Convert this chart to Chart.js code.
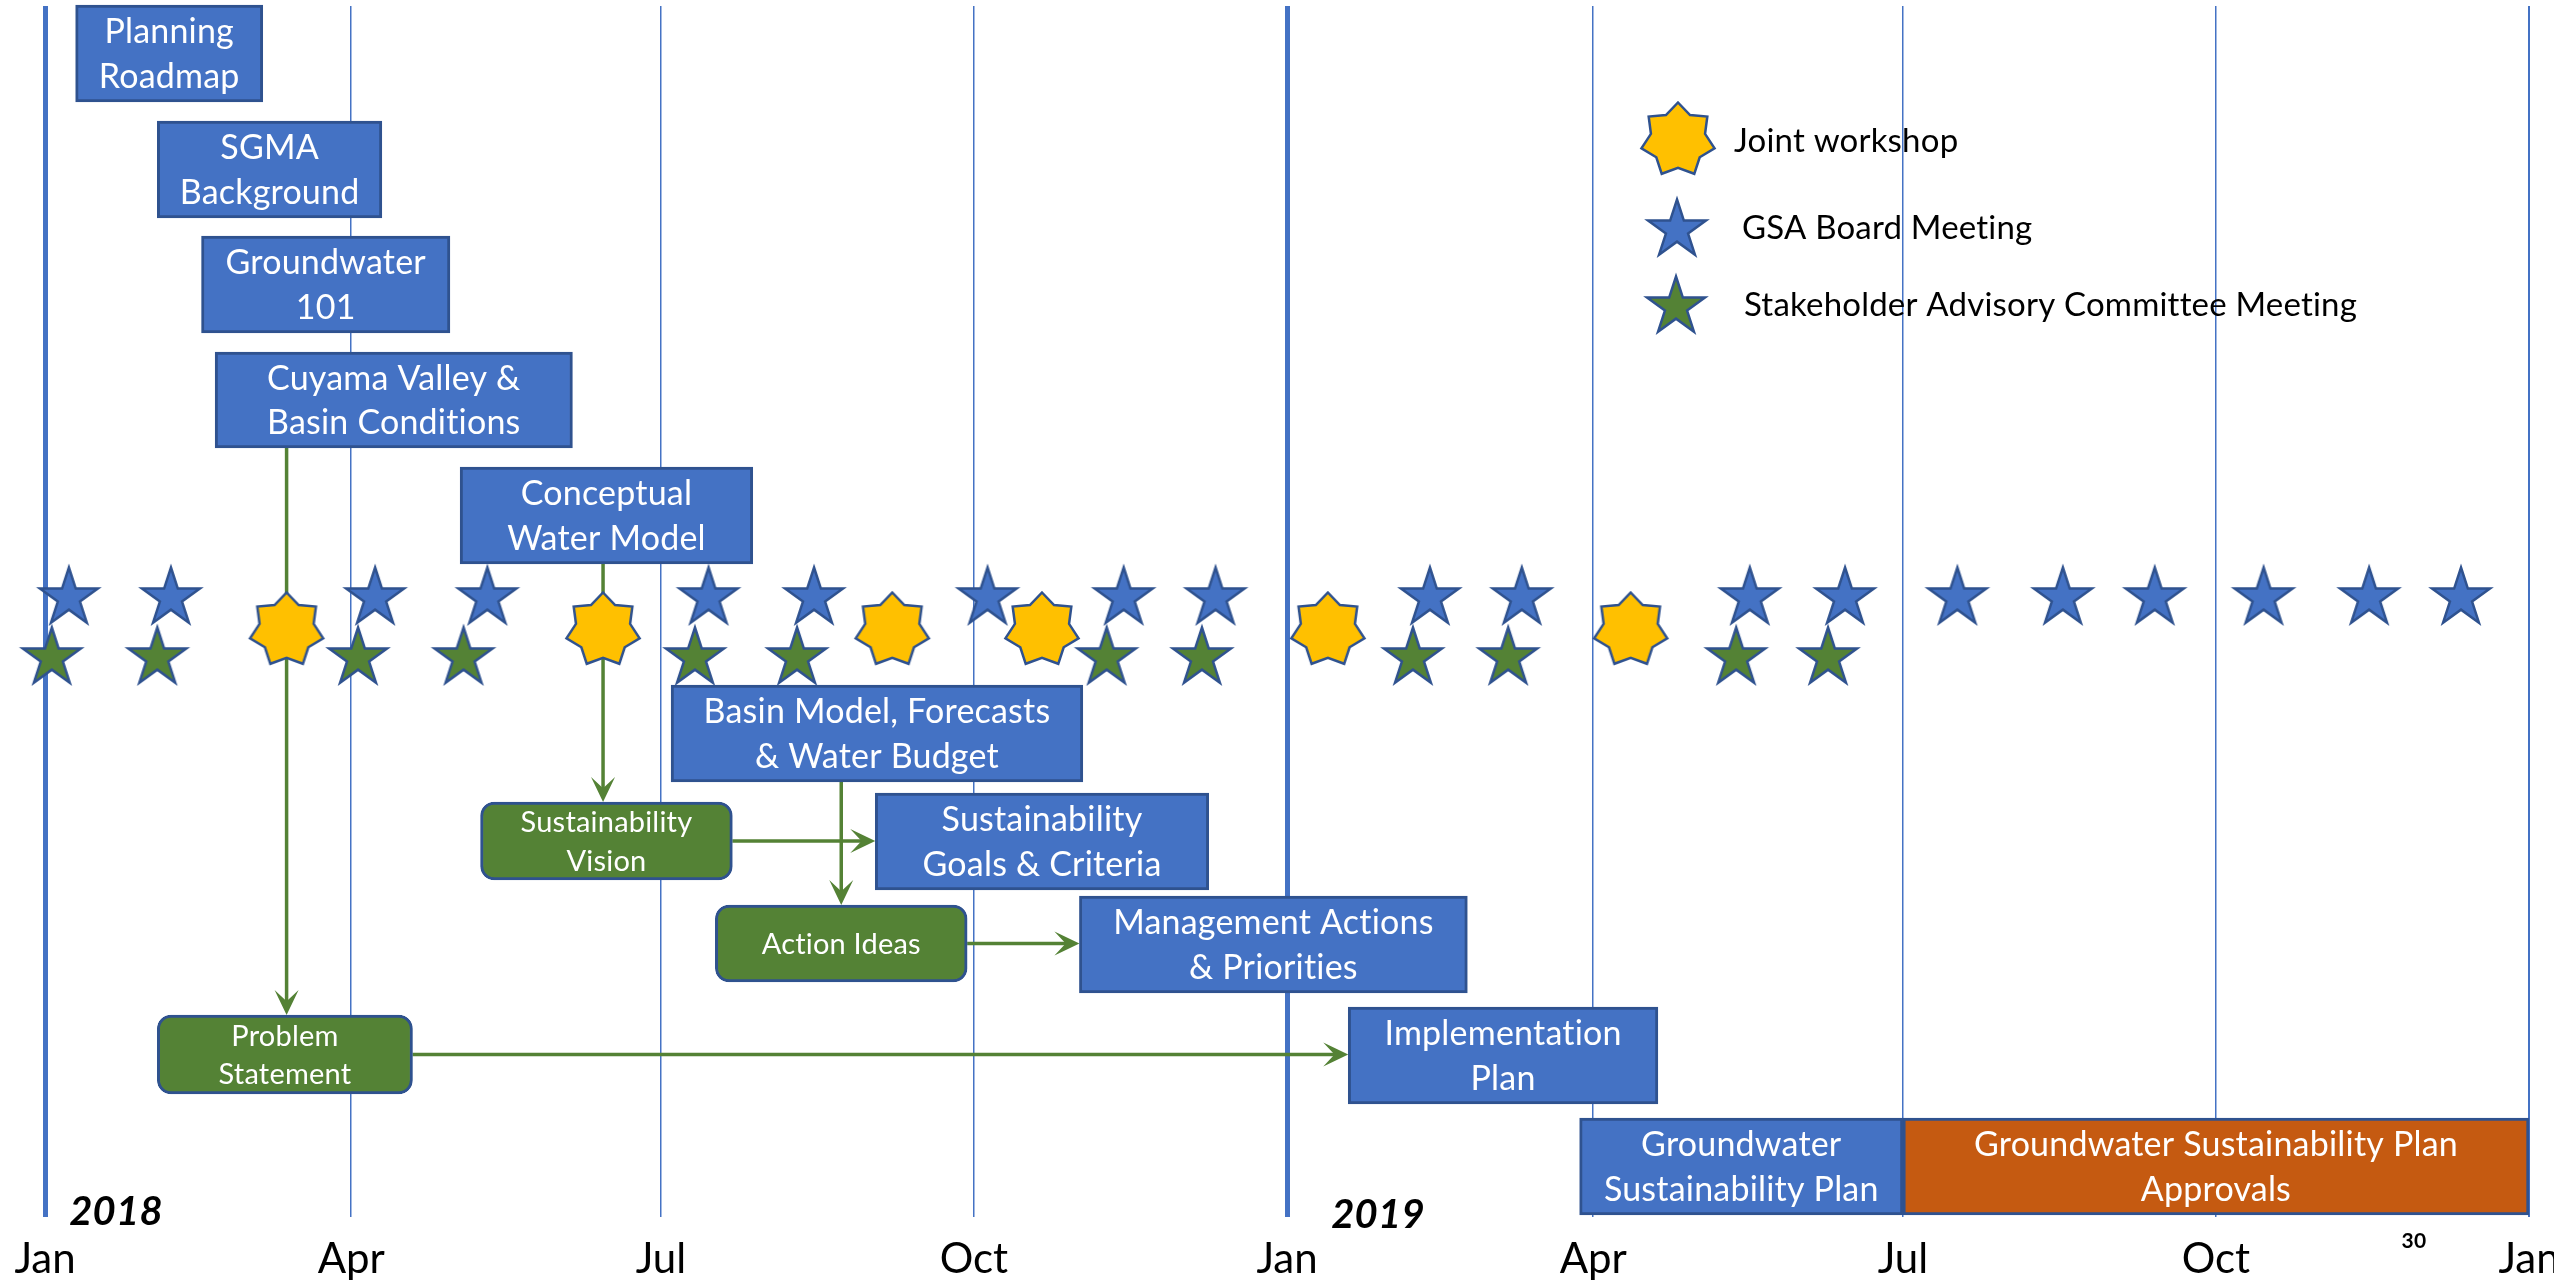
<!DOCTYPE html>
<html><head><meta charset="utf-8">
<script src="https://cdn.jsdelivr.net/npm/chart.js@4.4.1/dist/chart.umd.min.js"></script>
<style>html,body{margin:0;padding:0;background:#fff}#wrap{width:2554px;height:1285px;position:relative}</style>
</head><body><div id="wrap"><canvas id="c"></canvas></div>
<script>
// ---------------- data ----------------
const tickDates = ['2018-01-01','2018-04-01','2018-07-01','2018-10-01','2019-01-01','2019-04-01','2019-07-01','2019-10-01','2020-01-01'];
const tickLabels = ['Jan','Apr','Jul','Oct','Jan','Apr','Jul','Oct','Jan'];
const yearLabels = ['2018','2019'];
const pageNumber = '30';

const legendLabels = ['Joint workshop','GSA Board Meeting','Stakeholder Advisory Committee Meeting'];

const jointWorkshopDates = ['2018-03-13','2018-06-14','2018-09-07','2018-10-21','2019-01-13','2019-04-12'];
const gsaBoardDates = ['2018-01-08','2018-02-07','2018-04-08','2018-05-11','2018-07-15','2018-08-15','2018-10-05','2018-11-14','2018-12-11',
  '2019-02-12','2019-03-11','2019-05-17','2019-06-14','2019-07-17','2019-08-17','2019-09-13','2019-10-15','2019-11-15','2019-12-12'];
const sacDates = ['2018-01-03','2018-02-03','2018-04-03','2018-05-04','2018-07-11','2018-08-10','2018-11-09','2018-12-07',
  '2019-02-07','2019-03-07','2019-05-13','2019-06-09'];

const taskNames = ['Planning\nRoadmap','SGMA\nBackground','Groundwater\n101','Cuyama Valley &\nBasin Conditions','Conceptual\nWater Model',
  'Basin Model, Forecasts\n& Water Budget','Sustainability\nVision','Sustainability\nGoals & Criteria','Action Ideas',
  'Management Actions\n& Priorities','Problem\nStatement','Implementation\nPlan','Groundwater\nSustainability Plan',
  'Groundwater Sustainability Plan\nApprovals'];
const taskStart = ['2018-01-10','2018-02-03','2018-02-16','2018-02-20','2018-05-03','2018-07-04','2018-05-09','2018-09-02','2018-07-17',
  '2018-11-01','2018-02-03','2019-01-19','2019-03-28','2019-07-01'];
const taskEnd = ['2018-03-06','2018-04-10','2018-04-30','2018-06-05','2018-07-28','2018-11-02','2018-07-22','2018-12-09','2018-09-29',
  '2019-02-23','2018-04-19','2019-04-20','2019-07-01','2020-01-01'];
const taskKind = ['work','work','work','work','work','work','input','work','input','work','input','work','work','approval'];

// ---------------- layout (pixels) ----------------
const boxRows = [[5,102],[121,218],[236,333],[352,448],[467,564],[685,782],[802,880],[793,890],[905,982],[896,993],[1015,1094],[1007,1104],[1118,1215],[1118,1215]];
const rowY = {joint: 630, gsa: 598, sac: 658};
const vConnectors = [{from:3,to:10,at:'2018-03-13'},{from:4,to:6,at:'2018-06-14'},{from:5,to:8,at:'2018-08-23'}];
const hConnectors = [{from:6,to:7},{from:8,to:9},{from:10,to:11}];

const BLUE='#4472C4', DARK='#2F528F', GREEN='#548235', ORANGE='#C55A11', YELLOW='#FFC000';
const boxStyle = {
  work:{fill:BLUE, radius:0, font:34, lh:44.5},
  input:{fill:GREEN, radius:14, font:29, lh:38.5},
  approval:{fill:ORANGE, radius:0, font:34, lh:44.5}
};

const DAY0 = Date.UTC(2018,0,1);
const toDay = s => { const [y,m,d] = s.split('-').map(Number); return (Date.UTC(y,m-1,d)-DAY0)/86400000; };
const tickDays = tickDates.map(toDay);

function makeStar(points, R, ratio, fill, stroke, lw){
  const s = Math.ceil(2*R + 2*lw + 4);
  const c = document.createElement('canvas'); c.width = s; c.height = s;
  const g = c.getContext('2d'); g.translate(s/2, s/2);
  g.beginPath();
  for (let i=0;i<2*points;i++){ const r = i%2 ? R*ratio : R; const a = -Math.PI/2 + i*Math.PI/points; g.lineTo(r*Math.cos(a), r*Math.sin(a)); }
  g.closePath(); g.fillStyle = fill; g.fill(); g.lineJoin='miter'; g.lineWidth = lw; g.strokeStyle = stroke; g.stroke();
  return c;
}
const starJoint = makeStar(7, 37.5, 0.74, YELLOW, DARK, 2.5);
const starGsa = makeStar(5, 30.5, 0.382, BLUE, DARK, 2.5);
const starSac = makeStar(5, 30.5, 0.382, GREEN, DARK, 2.5);

function drawArrowHead(ctx, x, y, dx, dy){
  const L = 25, W = 12, N = 0.55*L, px = -dy, py = dx;
  ctx.beginPath();
  ctx.moveTo(x, y);
  ctx.lineTo(x - L*dx + W*px, y - L*dy + W*py);
  ctx.lineTo(x - N*dx, y - N*dy);
  ctx.lineTo(x - L*dx - W*px, y - L*dy - W*py);
  ctx.closePath(); ctx.fill();
}

const arrowsPlugin = {
  id:'arrows',
  beforeDatasetsDraw(chart){
    const ctx = chart.ctx, xs = chart.scales.x;
    const el = i => chart.getDatasetMeta(chart.data.datasets.findIndex(d => d.taskIndex === i)).data[0];
    ctx.save(); ctx.strokeStyle = GREEN; ctx.fillStyle = GREEN; ctx.lineWidth = 3.5;
    vConnectors.forEach(c => {
      const a = el(c.from), b = el(c.to), x = xs.getPixelForValue(toDay(c.at));
      const y1 = a.y + a.height/2, y2 = b.y - b.height/2;
      ctx.beginPath(); ctx.moveTo(x, y1); ctx.lineTo(x, y2 - 10); ctx.stroke();
      drawArrowHead(ctx, x, y2, 0, 1);
    });
    hConnectors.forEach(c => {
      const a = el(c.from), b = el(c.to), y = a.y;
      const x1 = Math.max(a.x, a.base), x2 = Math.min(b.x, b.base);
      ctx.beginPath(); ctx.moveTo(x1, y); ctx.lineTo(x2 - 10, y); ctx.stroke();
      drawArrowHead(ctx, x2, y, 1, 0);
    });
    ctx.restore();
  }
};

const boxLabelPlugin = {
  id:'boxLabels',
  afterDatasetDraw(chart, args){
    const ds = chart.data.datasets[args.index];
    if (ds.taskIndex === undefined) return;
    const e = args.meta.data[0], st = boxStyle[taskKind[ds.taskIndex]];
    const cx = (e.x + e.base)/2, cy = e.y;
    const lines = taskNames[ds.taskIndex].split('\n');
    const ctx = chart.ctx; ctx.save();
    ctx.font = st.font + 'px Lato'; ctx.fillStyle = '#fff'; ctx.textAlign = 'center'; ctx.textBaseline = 'alphabetic';
    if ('letterSpacing' in ctx) ctx.letterSpacing = '0.2px';
    lines.forEach((t, i) => {
      const by = cy + 0.3585*st.font + (i - (lines.length-1)/2)*st.lh;
      ctx.fillText(t, cx, by);
    });
    ctx.restore();
  }
};

const annotPlugin = {
  id:'annot',
  afterDraw(chart){
    const ctx = chart.ctx; ctx.save();
    const icons = [[starJoint,1678,140,152],[starGsa,1677,230,239],[starSac,1676,307,316]];
    const textX = [1734,1742,1744];
    ctx.font = '33px Lato'; ctx.fillStyle = '#000'; ctx.textAlign = 'left'; ctx.textBaseline = 'alphabetic';
    if ('letterSpacing' in ctx) ctx.letterSpacing = '0.2px';
    icons.forEach(([img,cx,cy,base], i) => {
      ctx.drawImage(img, cx - img.width/2, cy - img.height/2);
      ctx.fillText(legendLabels[i], textX[i], base);
    });
    ctx.font = 'italic bold 40px Lato'; ctx.textAlign = 'center';
    ctx.fillText(yearLabels[0], 116, 1225);
    ctx.fillText(yearLabels[1], 1378, 1228);
    ctx.font = 'bold 21px Lato';
    ctx.fillText(pageNumber, 2414, 1248);
    ctx.restore();
  }
};

function build(){
  const starDs = [
    {type:'scatter', data: jointWorkshopDates.map(d => ({x:toDay(d), y:rowY.joint})), pointStyle: starJoint, pointRadius: 37, showLine:false, clip:false, order:0},
    {type:'scatter', data: gsaBoardDates.map(d => ({x:toDay(d), y:rowY.gsa})), pointStyle: starGsa, pointRadius: 30, showLine:false, clip:false, order:1},
    {type:'scatter', data: sacDates.map(d => ({x:toDay(d), y:rowY.sac})), pointStyle: starSac, pointRadius: 30, showLine:false, clip:false, order:1}
  ];
  const boxDs = taskNames.map((n, i) => {
    const [top, bottom] = boxRows[i], st = boxStyle[taskKind[i]];
    return {type:'bar', indexAxis:'y', taskIndex:i,
      data:[{x:[toDay(taskStart[i]), toDay(taskEnd[i])], y:(top+bottom)/2}],
      barThickness: bottom - top, grouped:false, backgroundColor: st.fill, borderColor: DARK, borderWidth: 3,
      borderSkipped:false, borderRadius: st.radius, clip:false, order:2};
  });
  new Chart(document.getElementById('c'), {
    type:'bar',
    data:{datasets:[...starDs, ...boxDs]},
    options:{
      responsive:true, maintainAspectRatio:false, animation:false, devicePixelRatio:1, events:[],
      layout:{autoPadding:false, padding:{left:45, right:25, top:6, bottom:0}},
      plugins:{legend:{display:false}, tooltip:{enabled:false}},
      scales:{
        x:{type:'linear', position:'bottom', min:0, max:730, offset:false,
          afterBuildTicks: s => { s.ticks = tickDays.map(v => ({value:v})); },
          afterFit: s => { s.height = 68; s.paddingLeft = 0; s.paddingRight = 0; },
          ticks:{autoSkip:false, maxRotation:0, padding:17, color:'#000', font:{family:'Lato', size:42},
            callback: v => { const i = tickDays.indexOf(v); return i >= 0 ? tickLabels[i] : ''; }},
          grid:{offset:false, color:BLUE, drawTicks:false, lineWidth: c => (c.tick && (c.tick.value === 0 || c.tick.value === 365)) ? 5 : (c.tick && c.tick.value === 730 ? 2 : 1.5)},
          border:{display:false}
        },
        y:{type:'linear', display:false, min:6, max:1217, reverse:true, offset:false, grid:{offset:false}}
      }
    },
    plugins:[arrowsPlugin, boxLabelPlugin, annotPlugin]
  });
}
Promise.all(['34px Lato','italic bold 40px Lato','bold 21px Lato'].map(f => document.fonts.load(f))).then(build, build);
</script></body></html>
